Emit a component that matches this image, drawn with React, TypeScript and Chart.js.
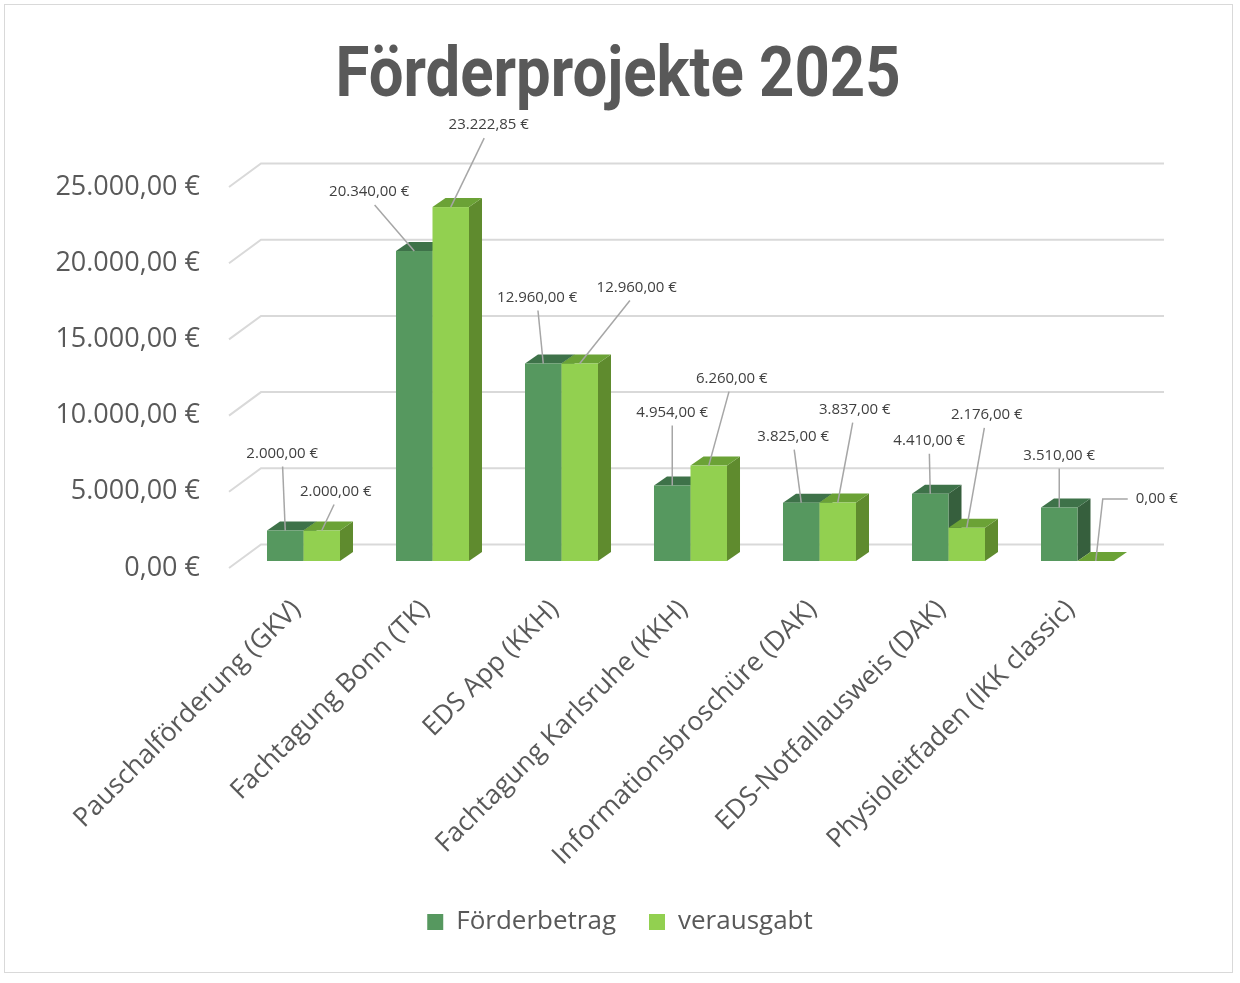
import { useEffect, useRef } from 'react';
import { Chart, registerables } from 'chart.js';
import type { Plugin } from 'chart.js';

Chart.register(...registerables);

const title = 'Förderprojekte 2025';
const categories = [
  'Pauschalförderung (GKV)',
  'Fachtagung Bonn (TK)',
  'EDS App (KKH)',
  'Fachtagung Karlsruhe (KKH)',
  'Informationsbroschüre (DAK)',
  'EDS-Notfallausweis (DAK)',
  'Physioleitfaden (IKK classic)',
];
const foerderbetrag = [2000, 20340, 12960, 4954, 3825, 4410, 3510];
const verausgabt = [2000, 23222.85, 12960, 6260, 3837, 2176, 0];
const yMax = 25000;
const yStep = 5000;

// where Excel put each data label, relative to the top of the bar's front face
const labelOffsetsF = [[-3, -77], [-45, -59], [-6, -66], [0, -73], [-8, -66], [-1, -53], [0, -52]];
const labelOffsetsV = [[14, -39], [38, -82], [57, -76], [23, -87], [17, -93], [20, -113], [40, -62]];
const labelSideV = ['c', 'c', 'c', 'c', 'c', 'c', 'r'];

const TEXT = '#595959';
const GRID = '#d9d9d9';
const BAR_SHIFT = { x: 10, y: -7 };
const DEPTH = { x: 13, y: -9 };
const BACK = { x: 32, y: -23.5 };
const faces = [
  { front: '#56985f', top: '#3e7249', side: '#365f3d' },
  { front: '#92d050', top: '#6ba236', side: '#5f8b2e' },
];

const euro = (v: number) =>
  v.toLocaleString('de-DE', { minimumFractionDigits: 2, maximumFractionDigits: 2 }) + ' €';

const threeD: Plugin<'bar'> = {
  id: 'threeD',
  beforeDatasetsDraw(chart) {
    const { ctx, chartArea, scales } = chart;
    const y = scales.y;
    ctx.save();
    ctx.strokeStyle = GRID;
    ctx.lineWidth = 2;
    for (let v = 0; v <= yMax; v += yStep) {
      const py = y.getPixelForValue(v);
      ctx.beginPath();
      ctx.moveTo(chartArea.left, py);
      ctx.lineTo(chartArea.left + BACK.x, py + BACK.y);
      ctx.lineTo(chartArea.right + BACK.x, py + BACK.y);
      ctx.stroke();
    }
    ctx.restore();
  },
  beforeDatasetDraw() {
    return false;
  },
  afterDatasetsDraw(chart) {
    const { ctx } = chart;
    const metas = [chart.getDatasetMeta(0), chart.getDatasetMeta(1)];
    ctx.save();
    for (let i = 0; i < categories.length; i++) {
      metas.forEach((meta, d) => {
        const bar: any = meta.data[i];
        const l = bar.x - bar.width / 2 + BAR_SHIFT.x;
        const r = bar.x + bar.width / 2 + BAR_SHIFT.x;
        const t = bar.y + BAR_SHIFT.y;
        const b = bar.base + BAR_SHIFT.y;
        const c = faces[d];
        ctx.fillStyle = c.side;
        ctx.beginPath();
        ctx.moveTo(r, t);
        ctx.lineTo(r + DEPTH.x, t + DEPTH.y);
        ctx.lineTo(r + DEPTH.x, b + DEPTH.y);
        ctx.lineTo(r, b);
        ctx.closePath();
        ctx.fill();
        ctx.fillStyle = c.top;
        ctx.beginPath();
        ctx.moveTo(l, t);
        ctx.lineTo(l + DEPTH.x, t + DEPTH.y);
        ctx.lineTo(r + DEPTH.x, t + DEPTH.y);
        ctx.lineTo(r, t);
        ctx.closePath();
        ctx.fill();
        ctx.fillStyle = c.front;
        ctx.fillRect(l, t, r - l, b - t);
      });
    }

    // data labels with leader lines
    ctx.font = '15px "Open Sans", sans-serif';
    ctx.fillStyle = '#404040';
    ctx.strokeStyle = '#a6a6a6';
    ctx.lineWidth = 1.5;
    ctx.textBaseline = 'middle';
    const series = [
      { values: foerderbetrag, offs: labelOffsetsF, side: labelOffsetsF.map(() => 'c') },
      { values: verausgabt, offs: labelOffsetsV, side: labelSideV },
    ];
    series.forEach((s, d) => {
      metas[d].data.forEach((el: any, i: number) => {
        const ax = el.x + BAR_SHIFT.x;
        const ay = el.y + BAR_SHIFT.y;
        const lx = ax + s.offs[i][0];
        const ly = ay + s.offs[i][1];
        ctx.beginPath();
        if (s.side[i] === 'r') {
          ctx.moveTo(ax, ay);
          ctx.lineTo(ax + 7, ly);
          ctx.lineTo(lx - 8, ly);
          ctx.stroke();
          ctx.textAlign = 'left';
          ctx.fillText(euro(s.values[i]), lx, ly);
        } else {
          const ex = lx - (lx - ax) * 0.12;
          ctx.moveTo(ax, ay);
          ctx.lineTo(ex, ly + 13);
          ctx.stroke();
          ctx.textAlign = 'center';
          ctx.fillText(euro(s.values[i]), lx, ly);
        }
      });
    });
    ctx.restore();
  },
  afterDraw(chart) {
    // condensed bold title, like Aptos Narrow
    const { ctx } = chart;
    ctx.save();
    ctx.font = 'bold 70px Roboto, sans-serif';
    const w = ctx.measureText(title).width;
    ctx.translate(618, 96);
    ctx.scale(565 / w, 1);
    ctx.fillStyle = TEXT;
    ctx.textAlign = 'center';
    ctx.textBaseline = 'alphabetic';
    ctx.fillText(title, 0, 0);
    ctx.restore();
  },
};

export default function App() {
  const canvasRef = useRef<HTMLCanvasElement>(null);

  useEffect(() => {
    document.body.style.margin = '0';
    if (!canvasRef.current) return;
    const chart = new Chart(canvasRef.current, {
      type: 'bar',
      data: {
        labels: categories,
        datasets: [
          { label: 'Förderbetrag', data: foerderbetrag, backgroundColor: faces[0].front },
          { label: 'verausgabt', data: verausgabt, backgroundColor: faces[1].front },
        ],
      },
      options: {
        responsive: true,
        maintainAspectRatio: false,
        animation: false,
        layout: { padding: { top: 187, right: 0, bottom: 38, left: 0 } },
        datasets: { bar: { categoryPercentage: 0.566, barPercentage: 1 } },
        scales: {
          y: {
            min: 0,
            max: yMax,
            afterFit: (s) => { s.width = 229; },
            ticks: {
              stepSize: yStep,
              padding: 29,
              color: TEXT,
              font: { family: '"Open Sans", sans-serif', size: 27 },
              callback: (v) => euro(Number(v)),
            },
            grid: { display: false, drawTicks: false },
            border: { display: false },
          },
          y2: {
            position: 'right',
            afterFit: (s) => { s.width = 108; },
            ticks: { display: false },
            grid: { display: false, drawTicks: false },
            border: { display: false },
          },
          x: {
            afterFit: (s) => { s.height = 308; },
            ticks: {
              autoSkip: false,
              minRotation: 45,
              maxRotation: 45,
              padding: 26,
              labelOffset: 3,
              color: TEXT,
              font: { family: '"Open Sans", sans-serif', size: 26.5 },
            },
            grid: { display: false, drawTicks: false },
            border: { display: false },
          },
        },
        plugins: {
          title: { display: false },
          legend: {
            position: 'bottom',
            labels: {
              color: TEXT,
              boxWidth: 16,
              boxHeight: 16,
              padding: 33,
              font: { family: '"Open Sans", sans-serif', size: 26 },
            },
          },
          tooltip: { enabled: false },
        },
      },
      plugins: [threeD],
    });
    return () => chart.destroy();
  }, []);

  return (
    <div style={{ position: 'relative', width: 1240, height: 983, background: '#fff' }}>
      <div
        style={{
          position: 'absolute',
          left: 4,
          top: 4,
          width: 1229,
          height: 969,
          border: '1.5px solid #d9d9d9',
          boxSizing: 'border-box',
        }}
      />
      <div style={{ position: 'absolute', left: 0, top: 0, width: 1240, height: 983 }}>
        <canvas ref={canvasRef} />
      </div>
    </div>
  );
}
